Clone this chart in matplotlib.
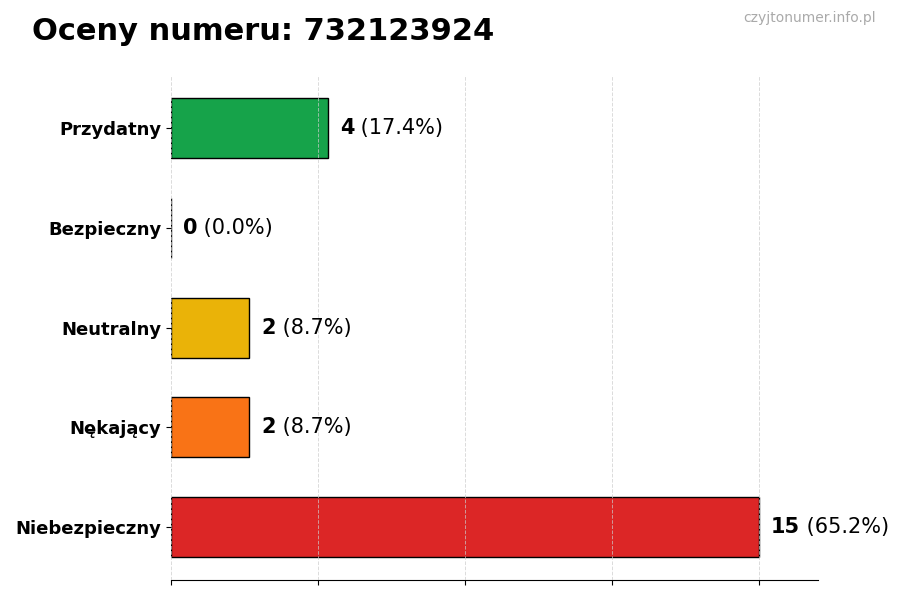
import matplotlib
matplotlib.use('Agg')
import matplotlib.pyplot as plt
import numpy as np

categories = ['Przydatny', 'Bezpieczny', 'Neutralny', 'Nękający', 'Niebezpieczny']
counts = [4, 0, 2, 2, 15]
colors = ['#16a34a', '#2563eb', '#eab308', '#f97316', '#dc2626']
number = '732123924'

total = sum(counts)
max_val = max(counts)

fig = plt.figure(figsize=(9, 6), dpi=100)
ax = fig.add_axes([0.19, 0.033, 0.719, 0.842])

y = np.arange(len(categories))[::-1]
ax.barh(y, counts, height=0.6, color=colors, edgecolor='black', linewidth=1, zorder=2)

ax.set_yticks(y)
ax.set_yticklabels(categories, fontsize=13, fontweight='bold')
ax.set_xlim(0, max_val * 1.1)
ax.set_xticks(np.linspace(0, max_val, 5))
ax.set_xticklabels([])
ax.grid(axis='x', linestyle='--', color='#cccccc', linewidth=0.7, alpha=0.7, zorder=3)
ax.set_axisbelow(False)

for s in ['top', 'right', 'left']:
    ax.spines[s].set_visible(False)

fig.canvas.draw()
renderer = fig.canvas.get_renderer()
off = max_val * 0.02
for yi, c in zip(y, counts):
    pct = c / total * 100
    t = ax.text(c + off, yi, str(c), va='center', ha='left', fontsize=15, fontweight='bold')
    bb = t.get_window_extent(renderer=renderer)
    x_end = ax.transData.inverted().transform((bb.x1, bb.y0))[0]
    ax.text(x_end, yi, ' (%.1f%%)' % pct, va='center', ha='left', fontsize=15)

fig.text(0.035, 0.947, 'Oceny numeru: ' + number, fontsize=22, fontweight='bold', ha='left', va='center')
fig.text(0.973, 0.97, 'czyjtonumer.info.pl', fontsize=10, color='#aaaaaa', ha='right', va='center')

fig.savefig('out.png', dpi=100)
